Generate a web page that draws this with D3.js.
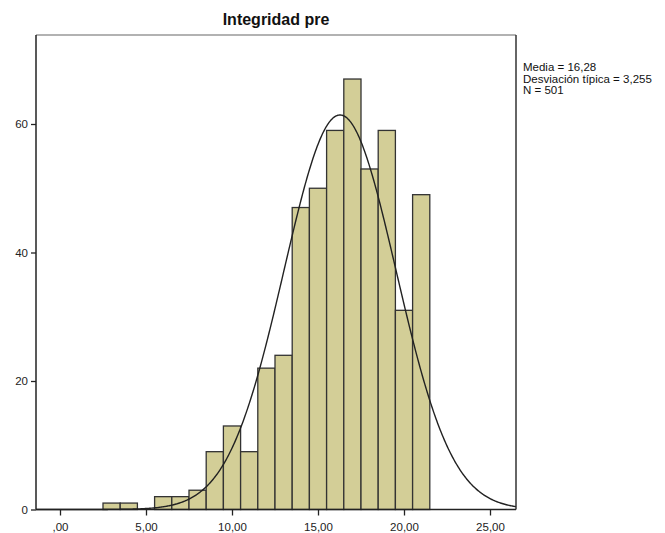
<!DOCTYPE html>
<html>
<head>
<meta charset="utf-8">
<script src="https://cdn.jsdelivr.net/npm/d3@7"></script>
<style>
  body { margin: 0; background: #fff; }
  text { font-family: "Liberation Sans", Arial, sans-serif; }
</style>
</head>
<body>
<svg id="chart" width="665" height="533"></svg>
<script>
// bins of width 1, centred on integers
var binStarts = [2.5, 3.5, 5.5, 6.5, 7.5, 8.5, 9.5, 10.5, 11.5, 12.5, 13.5, 14.5, 15.5, 16.5, 17.5, 18.5, 19.5, 20.5];
var counts = [1, 1, 2, 2, 3, 9, 13, 9, 22, 24, 47, 50, 59, 67, 53, 59, 31, 49];
var xTicks = [0, 5, 10, 15, 20, 25];
var yTicks = [0, 20, 40, 60];
var statLines = ['Media = 16,28', 'Desviación típica = 3,255', 'N = 501'];
var mean = 16.28, sd = 3.255, n = 501, binWidth = 1;

var svg = d3.select('#chart');
var plotL = 36, plotR = 516, plotT = 35, plotB = 509.5;

var x = d3.scaleLinear().domain([0, 25]).range([60, 490]);
var y = d3.scaleLinear().domain([0, 60]).range([plotB, plotB - 60 * 6.425]);

var fmt = d => d === 0 ? ',00' : d3.format('.2f')(d).replace('.', ',');

// frame
svg.append('line').attr('x1', plotL).attr('x2', plotR).attr('y1', plotT).attr('y2', plotT)
  .style('stroke', '#999').style('stroke-width', 1.5);
svg.append('line').attr('x1', plotR).attr('x2', plotR).attr('y1', plotT).attr('y2', plotB)
  .style('stroke', '#333').style('stroke-width', 1.5);

// bars
svg.selectAll('rect.bar')
  .data(binStarts.map((s, i) => ({s: s, c: counts[i]})))
  .enter()
  .append('rect')
  .attr('class', 'bar')
  .attr('x', d => x(d.s))
  .attr('width', d => x(d.s + binWidth) - x(d.s))
  .attr('y', d => y(d.c))
  .attr('height', d => y(0) - y(d.c))
  .style('fill', '#d3ce97')
  .style('stroke', '#333')
  .style('stroke-width', 1.3);

// normal curve
var xs = d3.range(x.invert(plotL), x.invert(plotR) + 0.001, 0.05);
var curve = xs.map(v => [v, n * binWidth * Math.exp(-0.5 * Math.pow((v - mean) / sd, 2)) / (sd * Math.sqrt(2 * Math.PI))]);
svg.append('path')
  .datum(curve)
  .attr('d', d3.line().x(d => x(d[0])).y(d => y(d[1])))
  .style('fill', 'none')
  .style('stroke', '#222')
  .style('stroke-width', 1.4);

// axes
var xAxis = svg.append('g').attr('transform', `translate(0,${plotB})`)
  .call(d3.axisBottom(x).tickValues(xTicks).tickFormat(fmt).tickSize(6).tickSizeOuter(0));
xAxis.select('.domain').attr('d', `M${plotL},0H${plotR}`);
var yAxis = svg.append('g').attr('transform', `translate(${plotL},0)`)
  .call(d3.axisLeft(y).tickValues(yTicks).tickSize(5).tickSizeOuter(0));
yAxis.select('.domain').attr('d', `M0,${plotT}V${plotB}`);
svg.selectAll('.domain').style('stroke', '#222').style('stroke-width', 1.5);
svg.selectAll('.tick line').style('stroke', '#222').style('stroke-width', 1.3);
svg.selectAll('.tick text').style('font-size', '11.5px').style('fill', '#222')
  .style('font-family', '"Liberation Sans", Arial, sans-serif');
xAxis.selectAll('.tick text').attr('dy', '1.1em');

// title
svg.append('text').attr('x', 276).attr('y', 25).attr('text-anchor', 'middle')
  .style('font-size', '16px').style('font-weight', 'bold').style('fill', '#111')
  .text('Integridad pre');

// stats
svg.append('g').selectAll('text').data(statLines).enter().append('text')
  .attr('x', 523).attr('y', (d, i) => 71 + i * 11.5)
  .style('font-size', '11.5px').style('fill', '#111')
  .text(d => d);
</script>
</body>
</html>
